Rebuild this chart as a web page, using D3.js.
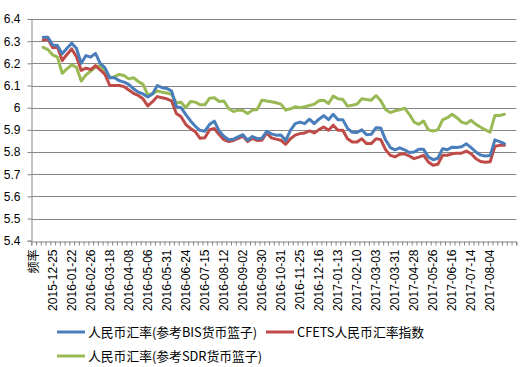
<!DOCTYPE html>
<html><head><meta charset="utf-8">
<script src="https://cdn.jsdelivr.net/npm/d3@7"></script>
<style>
body{margin:0;background:#fff;}
svg{display:block;}
</style></head>
<body>
<div id="chart"></div>
<script>
// ---- data ----
const categoryCount = 102;      // number of category slots on the x axis
const dataStart = 2;            // first category index holding data
const labelEvery = 4;           // label interval on the category axis
const categoryLabels = ["频率","2015-12-25","2016-01-22","2016-02-26","2016-03-18","2016-04-08","2016-05-06","2016-05-31","2016-06-24","2016-07-15","2016-08-12","2016-09-02","2016-09-30","2016-10-31","2016-11-25","2016-12-16","2017-01-13","2017-02-10","2017-03-03","2017-03-31","2017-04-28","2017-05-26","2017-06-16","2017-07-14","2017-08-04"];
const yTicks = [5.4,5.5,5.6,5.7,5.8,5.9,6.0,6.1,6.2,6.3,6.4];
const yTickLabels = ["5.4","5.5","5.6","5.7","5.8","5.9","6","6.1","6.2","6.3","6.4"];
const seriesNames = ["人民币汇率(参考BIS货币篮子)","CFETS人民币汇率指数","人民币汇率(参考SDR货币篮子)"];

const bisValues = [6.318,6.318,6.283,6.28,6.243,6.268,6.29,6.268,6.2,6.235,6.228,6.245,6.2,6.18,6.135,6.135,6.122,6.115,6.105,6.085,6.07,6.062,6.048,6.062,6.1,6.09,6.087,6.075,6.004,6.0,5.969,5.94,5.916,5.898,5.894,5.925,5.939,5.895,5.871,5.855,5.858,5.868,5.878,5.853,5.87,5.86,5.862,5.893,5.882,5.876,5.877,5.852,5.898,5.928,5.935,5.928,5.948,5.928,5.948,5.964,5.946,5.97,5.946,5.946,5.907,5.889,5.888,5.9,5.878,5.88,5.91,5.908,5.855,5.82,5.81,5.819,5.81,5.798,5.8,5.812,5.812,5.778,5.765,5.772,5.815,5.81,5.822,5.82,5.824,5.837,5.82,5.8,5.786,5.782,5.784,5.855,5.847,5.838];
const cfetsValues = [6.305,6.31,6.27,6.275,6.213,6.24,6.265,6.23,6.168,6.178,6.172,6.19,6.17,6.15,6.1,6.1,6.1,6.095,6.08,6.065,6.055,6.04,6.008,6.027,6.05,6.045,6.04,6.031,5.974,5.959,5.924,5.906,5.891,5.862,5.864,5.901,5.906,5.879,5.856,5.847,5.852,5.862,5.872,5.847,5.862,5.852,5.853,5.886,5.864,5.858,5.853,5.835,5.86,5.876,5.883,5.886,5.895,5.886,5.901,5.913,5.898,5.921,5.898,5.898,5.86,5.845,5.845,5.86,5.838,5.838,5.86,5.856,5.811,5.785,5.778,5.79,5.792,5.782,5.77,5.777,5.785,5.755,5.74,5.745,5.785,5.785,5.792,5.795,5.795,5.804,5.792,5.77,5.757,5.754,5.756,5.826,5.83,5.83];
const sdrValues = [6.272,6.262,6.238,6.228,6.155,6.175,6.193,6.182,6.12,6.148,6.165,6.183,6.19,6.165,6.135,6.14,6.15,6.145,6.13,6.135,6.118,6.105,6.058,6.064,6.075,6.07,6.066,6.06,6.022,6.024,6.0,6.028,6.025,6.013,6.013,6.043,6.045,6.028,6.03,5.996,5.983,5.989,5.987,5.974,5.989,5.992,6.034,6.03,6.027,6.022,6.016,5.989,5.995,6.004,6.0,6.004,6.01,6.016,6.031,6.034,6.019,6.052,6.04,6.037,6.007,6.011,6.016,6.04,6.037,6.034,6.055,6.031,5.992,5.978,5.986,5.99,5.998,5.97,5.935,5.925,5.94,5.9,5.895,5.9,5.945,5.955,5.97,5.955,5.935,5.928,5.943,5.925,5.912,5.9,5.89,5.965,5.965,5.97];

const colors = ["#4A7EBB","#BE4B48","#98B954"];

// ---- layout ----
const W = 528, H = 367;
const plot = {left: 31.3, right: 516.3, top: 19, bottom: 240.7};

const svg = d3.select("#chart").append("svg").attr("width", W).attr("height", H)
  .style("font-family", "'Liberation Sans', Arial, sans-serif");

const x = d3.scaleBand().domain(d3.range(categoryCount)).range([plot.left, plot.right]).padding(0);
const xb = d3.scaleLinear().domain([0, categoryCount]).range([plot.left, plot.right]);
const y = d3.scaleLinear().domain([5.4, 6.4]).range([plot.bottom, plot.top]);
const gridColor = "#868686";

// gridlines
svg.append("g").selectAll("line").data(yTicks.filter(d => d > 5.4)).join("line")
  .attr("x1", plot.left).attr("x2", plot.right)
  .attr("y1", d => Math.round(y(d)) + 0.5).attr("y2", d => Math.round(y(d)) + 0.5)
  .attr("stroke", gridColor).attr("stroke-width", 1);

// y axis
const yAxis = svg.append("g").attr("transform", `translate(${Math.round(plot.left)+0.5},0)`)
  .call(d3.axisLeft(y).tickValues(yTicks).tickSize(4).tickPadding(7)
    .tickFormat((d, i) => yTickLabels[i]));
yAxis.select(".domain").attr("stroke", gridColor);
yAxis.selectAll(".tick line").attr("stroke", gridColor);
yAxis.selectAll("text").attr("font-size", 12).attr("fill", "#000");

// x axis: boundary ticks
const xTickAxis = svg.append("g").attr("transform", `translate(0,${Math.round(plot.bottom)+0.5})`)
  .call(d3.axisBottom(xb).tickValues(d3.range(0, categoryCount + 1)).tickSize(4).tickFormat(""));
xTickAxis.select(".domain").attr("stroke", gridColor);
xTickAxis.selectAll(".tick line").attr("stroke", gridColor);

// x axis: labels every labelEvery categories
const labelIdx = d3.range(0, categoryCount, labelEvery).slice(0, categoryLabels.length);
const xLabAxis = svg.append("g").attr("transform", `translate(0,${Math.round(plot.bottom)+0.5})`)
  .call(d3.axisBottom(x).tickValues(labelIdx).tickSize(0)
    .tickFormat(d => categoryLabels[d / labelEvery]));
xLabAxis.select(".domain").remove();
xLabAxis.selectAll("text")
  .attr("font-size", 12).attr("fill", "#000")
  .attr("text-anchor", "end")
  .attr("transform", "rotate(-90)")
  .attr("x", -8).attr("y", 0).attr("dy", "0.35em");
xLabAxis.selectAll("text").filter(d => d === 0)
  .style("font-family", "'Noto Sans CJK SC', sans-serif").attr("font-size", 12);

// lines
const seriesValues = [bisValues, cfetsValues, sdrValues];
const line = d3.line()
  .x((d, i) => x(i + dataStart) + x.bandwidth() / 2)
  .y(d => y(d));
const drawOrder = [2, 1, 0];
drawOrder.forEach(s => {
  svg.append("path").datum(seriesValues[s])
    .attr("d", line).attr("fill", "none")
    .attr("stroke", colors[s]).attr("stroke-width", 3)
    .attr("stroke-linejoin", "round").attr("stroke-linecap", "round");
});

// legend
const legendItems = [
  {s: 0, x: 57, y: 332},
  {s: 1, x: 266, y: 332},
  {s: 2, x: 57, y: 356}
];
const lg = svg.append("g").style("font-family", "'Noto Sans CJK SC', 'Liberation Sans', sans-serif");
legendItems.forEach(it => {
  lg.append("line").attr("x1", it.x).attr("x2", it.x + 28).attr("y1", it.y).attr("y2", it.y)
    .attr("stroke", colors[it.s]).attr("stroke-width", 3);
  lg.append("text").attr("x", it.x + 31).attr("y", it.y).attr("dy", "0.36em")
    .attr("font-size", 12.8).attr("fill", "#000").text(seriesNames[it.s]);
});
</script>
</body></html>
